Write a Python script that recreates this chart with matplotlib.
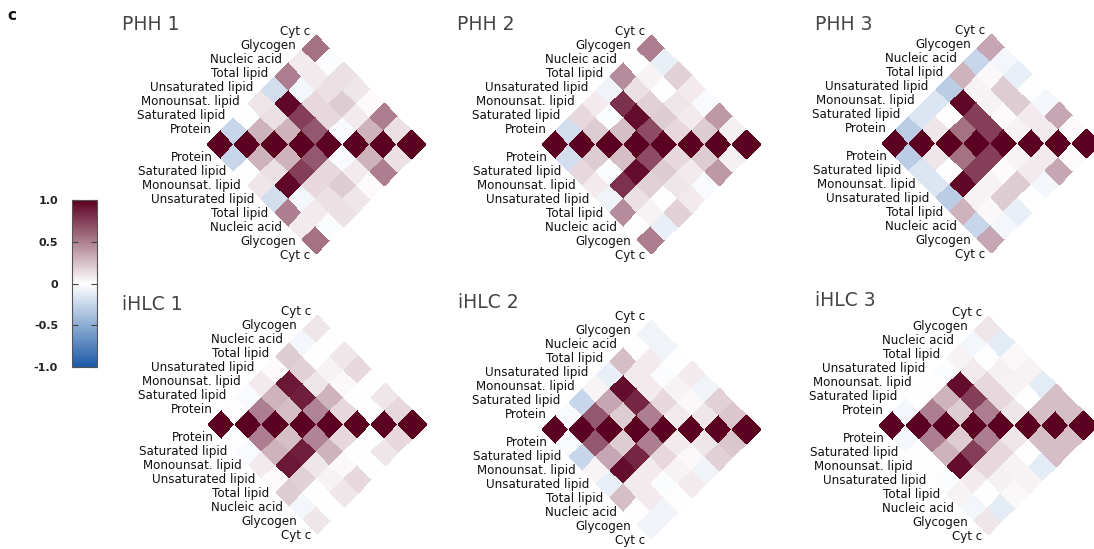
import numpy as np
import matplotlib
matplotlib.use("Agg")
import matplotlib.pyplot as plt
from matplotlib.colors import LinearSegmentedColormap, Normalize
from matplotlib.cm import ScalarMappable

plt.rcParams["font.family"] = ["DejaVu Sans"]

variables = ["Protein", "Saturated lipid", "Monounsat. lipid", "Unsaturated lipid",
             "Total lipid", "Nucleic acid", "Glycogen", "Cyt c"]

# Pairwise correlations, upper triangle in row-major order
phh1 = [-0.25, 0.00, 0.10, -0.20, 0.50, 0.08, 0.55,
        0.30, 0.12, 0.97, -0.05, 0.08, -0.02,
        0.30, 0.75, 0.15, 0.12, 0.12,
        0.65, 0.15, 0.20, 0.10,
        -0.03, 0.08, 0.02,
        0.30, 0.50,
        0.12]
phh2 = [-0.20, 0.15, 0.08, -0.07, 0.45, 0.00, 0.50,
        0.20, -0.02, 0.80, 0.12, 0.05, -0.10,
        0.25, 0.95, 0.18, 0.00, 0.18,
        0.70, 0.20, 0.10, 0.08,
        0.15, 0.08, -0.03,
        0.20, 0.40,
        0.06]
phh3 = [-0.30, -0.15, -0.15, -0.30, 0.30, -0.25, 0.35,
        0.10, 0.00, 0.97, 0.05, 0.03, -0.05,
        0.55, 0.75, 0.05, 0.20, -0.10,
        0.75, 0.02, 0.20, 0.00,
        0.05, 0.08, -0.05,
        0.08, 0.35,
        0.02]
ihlc1 = [0.00, -0.03, 0.08, 0.02, 0.20, -0.05, 0.10,
         0.50, 0.30, 0.90, 0.18, 0.00, 0.00,
         0.25, 0.88, 0.10, 0.05, 0.10,
         0.48, 0.30, 0.03, 0.15,
         0.15, 0.00, 0.00,
         0.00, 0.10,
         0.15]
ihlc2 = [-0.03, -0.25, 0.04, -0.10, 0.25, 0.00, -0.07,
         0.65, 0.35, 0.95, 0.08, 0.08, -0.07,
         0.20, 0.85, 0.08, -0.02, 0.00,
         0.50, 0.15, 0.05, 0.08,
         0.08, 0.03, -0.07,
         0.10, 0.18,
         0.22]
ihlc3 = [-0.05, 0.00, 0.00, -0.02, 0.05, -0.05, 0.10,
         0.50, 0.30, 0.95, 0.08, 0.00, -0.12,
         0.20, 0.75, 0.15, 0.06, 0.03,
         0.50, 0.15, 0.05, 0.05,
         0.10, 0.00, -0.12,
         0.25, 0.25,
         0.25]

titles = ["PHH 1", "PHH 2", "PHH 3", "iHLC 1", "iHLC 2", "iHLC 3"]
samples = [phh1, phh2, phh3, ihlc1, ihlc2, ihlc3]

W, H = 1094, 549
fig = plt.figure(figsize=(W / 100, H / 100), dpi=100)

cmap = LinearSegmentedColormap.from_list(
    "corr", [(0.0, "#1c5aa8"), (0.5, "#ffffff"), (1.0, "#5c0021")])
norm = Normalize(-1, 1)

# left-corner pixel of each diamond, title pixel position
corners = [(207, 144), (542, 144), (882, 143), (208, 424), (542, 429), (879, 425)]
title_pos = [(122, 25), (457, 25), (815, 25), (122, 305), (458, 303), (815, 300)]
u = 13.6
xmin, xmax, yext = -10.0, 16.5, 9.5

n = len(variables)
a, b = np.meshgrid(np.arange(n + 1), np.arange(n + 1), indexing="ij")
X = a + b          # diagonal runs horizontally
Y = b - a

for vals, title, (x0, yc), (tx, ty) in zip(samples, titles, corners, title_pos):
    M = np.zeros((n, n))
    M[np.triu_indices(n, 1)] = vals
    M = M + M.T + np.eye(n)

    left = x0 + xmin * u
    top = yc - yext * u
    ax = fig.add_axes([left / W, (H - top - 2 * yext * u) / H,
                       (xmax - xmin) * u / W, 2 * yext * u / H])
    ax.pcolormesh(X, Y, M, cmap=cmap, norm=norm, edgecolors="face", linewidth=0.4)
    ax.set_xlim(xmin, xmax)
    ax.set_ylim(-yext, yext)
    ax.axis("off")
    for k, name in enumerate(variables):
        ax.text(1.03 * k + 0.35, 1.03 * (k + 1), name, ha="right", va="center",
                fontsize=8.6, color="#111111")
        ax.text(1.03 * k + 0.4, -1.03 * (k + 1) + 0.05, name, ha="right", va="center",
                fontsize=8.6, color="#111111")
    fig.text(tx / W, 1 - ty / H, title, ha="left", va="center",
             fontsize=13.5, color="#444444")

# colour scale
cax = fig.add_axes([72 / W, (H - 367) / H, 25 / W, 167 / H])
cb = fig.colorbar(ScalarMappable(norm=norm, cmap=cmap), cax=cax,
                  ticks=[-1, -0.5, 0, 0.5, 1])
cb.ax.set_yticklabels(["-1.0", "-0.5", "0", "0.5", "1.0"])
cb.ax.yaxis.set_ticks_position("both")
cb.ax.tick_params(axis="y", direction="in", length=4, width=0.8, color="#444444",
                  labelleft=True, labelright=False, labelsize=8, pad=10)
for lab in cb.ax.get_yticklabels():
    lab.set_fontweight("bold")
    lab.set_color("#222222")
cb.outline.set_edgecolor("#555555")
cb.outline.set_linewidth(0.8)

fig.text(12 / W, 1 - 15 / H, "c", fontsize=11, fontweight="bold", ha="center",
         va="center", color="#111111")

fig.savefig("out.png", dpi=100)
